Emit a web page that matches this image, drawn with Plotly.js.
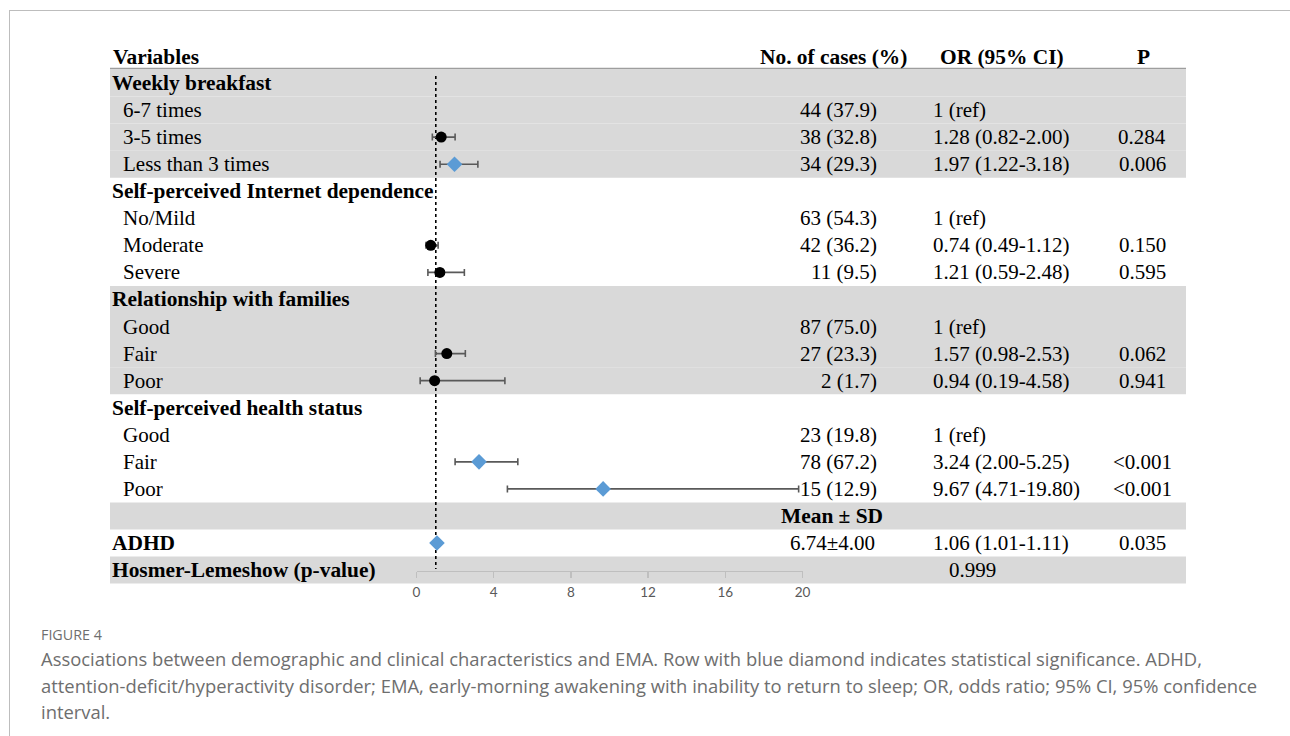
<!DOCTYPE html>
<html>
<head>
<meta charset="utf-8">
<script src="https://cdn.plot.ly/plotly-3.0.1.min.js"></script>
<style>
  html, body { margin:0; padding:0; background:#fff; }
  #wrap { position:relative; width:1290px; height:736px; overflow:hidden; }
  #chart { position:absolute; left:0; top:0; width:1290px; height:736px; }
  #frame { position:absolute; left:9px; top:10px; width:1300px; height:740px;
           border-top:1px solid #bdbdbd; border-left:1px solid #bdbdbd; pointer-events:none; }
  #fig { position:absolute; left:41px; top:625px; font-family:"Open Sans", sans-serif;
         font-size:14.3px; color:#6e6e6e; }
  #cap { position:absolute; left:41px; top:646px; font-family:"Open Sans", sans-serif;
         font-size:18.4px; line-height:26.5px; color:#6e6e6e; white-space:nowrap; }
</style>
</head>
<body>
<div id="wrap">
  <div id="chart"></div>
  <div id="frame"></div>
  <div id="fig">FIGURE 4</div>
  <div id="cap">Associations between demographic and clinical characteristics and EMA. Row with blue diamond indicates statistical significance. ADHD,<br>attention-deficit/hyperactivity disorder; EMA, early-morning awakening with inability to return to sleep; OR, odds ratio; 95% CI, 95% confidence<br>interval.</div>
</div>
<script>
// ---------------- data ----------------
const headers = ['Variables', 'No. of cases (%)', 'OR (95% CI)', 'P'];
const labels = ['Weekly breakfast', '6-7 times', '3-5 times', 'Less than 3 times',
  'Self-perceived Internet dependence', 'No/Mild', 'Moderate', 'Severe',
  'Relationship with families', 'Good', 'Fair', 'Poor',
  'Self-perceived health status', 'Good', 'Fair', 'Poor',
  '', 'ADHD', 'Hosmer-Lemeshow (p-value)'];
const isGroup = [true, false, false, false, true, false, false, false, true, false, false, false,
  true, false, false, false, false, true, true];
const cases = ['', '44 (37.9)', '38 (32.8)', '34 (29.3)', '', '63 (54.3)', '42 (36.2)', '11 (9.5)',
  '', '87 (75.0)', '27 (23.3)', '2 (1.7)', '', '23 (19.8)', '78 (67.2)', '15 (12.9)',
  'Mean ± SD', '6.74±4.00', ''];
const orText = ['', '1 (ref)', '1.28 (0.82-2.00)', '1.97 (1.22-3.18)', '', '1 (ref)', '0.74 (0.49-1.12)',
  '1.21 (0.59-2.48)', '', '1 (ref)', '1.57 (0.98-2.53)', '0.94 (0.19-4.58)', '', '1 (ref)',
  '3.24 (2.00-5.25)', '9.67 (4.71-19.80)', '', '1.06 (1.01-1.11)', ''];
const pText = ['', '', '0.284', '0.006', '', '', '0.150', '0.595', '', '', '0.062', '0.941', '', '',
  '<0.001', '<0.001', '', '0.035', ''];
const hosmerP = '0.999';
const orVal = [null, null, 1.28, 1.97, null, null, 0.74, 1.21, null, null, 1.57, 0.94, null, null,
  3.24, 9.67, null, 1.06, null];
const ciLow = [null, null, 0.82, 1.22, null, null, 0.49, 0.59, null, null, 0.98, 0.19, null, null,
  2.00, 4.71, null, 1.01, null];
const ciHigh = [null, null, 2.00, 3.18, null, null, 1.12, 2.48, null, null, 2.53, 4.58, null, null,
  5.25, 19.80, null, 1.11, null];
const shadedRows = [0, 1, 2, 3, 8, 9, 10, 11, 16, 18];
const xTicks = [0, 4, 8, 12, 16, 20];

// ---------------- geometry ----------------
const L = 110, R = 1186, T = 40, B = 600;
const rowTop = 83, rowStep = 27.06;
const rowOf = p => (p - rowTop) / rowStep;
const px = p => (p - L) / (R - L);

const serif = 'Liberation Serif, Times New Roman, serif';
const FS = 21;

const annotations = [];
function addText(text, xpx, row, anchor, bold) {
  annotations.push({
    text: bold ? '<b>' + text + '</b>' : text,
    x: px(xpx), xref: 'paper', y: row, yref: 'y',
    xanchor: anchor, yanchor: 'middle', showarrow: false,
    borderpad: 0, font: {family: serif, size: bold ? 21.4 : FS, color: '#000'}
  });
}
// headers
addText(headers[0], 112, -0.95, 'left', true);
addText(headers[1], 833, -0.95, 'center', true);
addText(headers[2], 1002, -0.95, 'center', true);
addText(headers[3], 1143, -0.95, 'center', true);

labels.forEach((t, i) => {
  if (t) addText(t, isGroup[i] ? 111 : 122, i, 'left', isGroup[i]);
  if (cases[i]) {
    if (cases[i].indexOf('±') >= 0) addText(cases[i], 832, i, 'center', cases[i].indexOf('SD') >= 0);
    else addText(cases[i], 878, i, 'right', false);
  }
  if (orText[i]) addText(orText[i], 932, i, 'left', false);
  if (pText[i]) addText(pText[i], 1142, i, 'center', false);
});
addText(hosmerP, 972, labels.length - 1, 'center', false);

const shapes = [];
shadedRows.forEach(r => shapes.push({
  type: 'rect', xref: 'paper', yref: 'y', x0: 0, x1: 1, y0: r - 0.5, y1: r + 0.5,
  fillcolor: '#d9d9d9', line: {width: 0}, layer: 'below'
}));
shapes.push({type: 'line', xref: 'paper', yref: 'y', x0: 0, x1: 1, y0: rowOf(68.5), y1: rowOf(68.5),
  line: {color: '#9e9e9e', width: 1.5}, layer: 'below'});
shapes.push({type: 'line', xref: 'x', yref: 'y', x0: 1, x1: 1, y0: rowOf(76), y1: rowOf(569),
  line: {color: '#000', width: 1.6, dash: 'dot'}, layer: 'below'});

const isSig = pText.map(p => p !== '' && (p.startsWith('<') || parseFloat(p) < 0.05));

function makeTrace(sig) {
  const idx = orVal.map((v, i) => i).filter(i => orVal[i] !== null && isSig[i] === sig);
  return {
    type: 'scatter', mode: 'markers', cliponaxis: false,
    x: idx.map(i => orVal[i]), y: idx,
    error_x: {type: 'data', symmetric: false,
      array: idx.map(i => ciHigh[i] - orVal[i]),
      arrayminus: idx.map(i => orVal[i] - ciLow[i]),
      color: '#595959', thickness: 1.6, width: 3.5},
    marker: sig ? {symbol: 'diamond', size: 12, color: '#5b9bd5', line: {width: 0}}
                : {symbol: 'circle', size: 11, color: '#000', line: {width: 0}},
    hoverinfo: 'skip'
  };
}

const layout = {
  width: 1290, height: 736,
  margin: {l: L, r: 1290 - R, t: T, b: 736 - B, pad: 0},
  paper_bgcolor: 'rgba(0,0,0,0)', plot_bgcolor: 'rgba(0,0,0,0)',
  showlegend: false,
  xaxis: {
    domain: [px(416.5), px(802.5)], range: [0, 20], anchor: 'free', position: (B - 571) / (B - T),
    tickvals: xTicks, ticktext: xTicks.map(String),
    showline: true, linecolor: '#bfbfbf', linewidth: 1.3,
    ticks: 'outside', ticklen: 6, tickwidth: 1.3, tickcolor: '#bfbfbf',
    ticklabelstandoff: 2,
    tickfont: {family: 'Lato, Liberation Sans, sans-serif', size: 13.5, color: '#595959'},
    showgrid: false, zeroline: false, fixedrange: true
  },
  yaxis: {range: [rowOf(B), rowOf(T)], visible: false, showgrid: false, zeroline: false, fixedrange: true},
  shapes: shapes,
  annotations: annotations
};

Plotly.newPlot('chart', [makeTrace(false), makeTrace(true)], layout, {staticPlot: true, displayModeBar: false});
</script>
</body>
</html>
